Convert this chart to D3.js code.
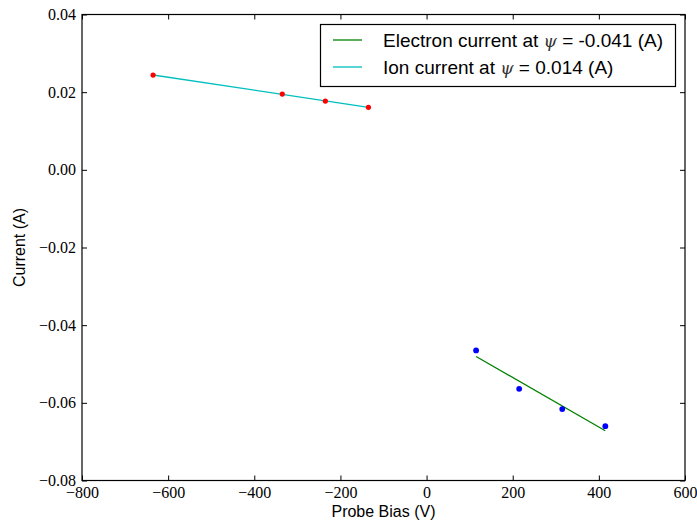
<!DOCTYPE html>
<html>
<head>
<meta charset="utf-8">
<script src="https://cdn.jsdelivr.net/npm/d3@7"></script>
<style>
  html, body { margin: 0; padding: 0; background: #fff; }
  svg { display: block; }
  .tick text { font-family: 'Liberation Serif', 'Times New Roman', serif; }
</style>
</head>
<body>
<svg id="chart" width="697" height="527"></svg>
<script>
// Probe bias sweep (V) and measured current (A)
const ionBias = [-635, -335, -235, -135];
const ionCurrent = [0.0244, 0.0195, 0.0177, 0.0161];
const electronBias = [115, 215, 315, 415];
const electronCurrent = [-0.0465, -0.0564, -0.0616, -0.0660];

const xTicks = [-800, -600, -400, -200, 0, 200, 400, 600];
const yTicks = [-0.08, -0.06, -0.04, -0.02, 0.00, 0.02, 0.04];

const legendLabels = [
  { pre: "Electron current at ", val: " = -0.041 (A)", color: "#008000" },
  { pre: "Ion current at ", val: " = 0.014 (A)", color: "#00bfbf" }
];

const W = 697, H = 527;
const m = { left: 82, top: 14.5, right: 12, bottom: 46.5 };
const pw = W - m.left - m.right, ph = H - m.top - m.bottom;

const svg = d3.select("#chart");
const g = svg.append("g").attr("transform", `translate(${m.left},${m.top})`);

const x = d3.scaleLinear().domain([-800, 600]).range([0, pw]);
const y = d3.scaleLinear().domain([-0.08, 0.04]).range([ph, 0]);

// least-squares straight line through a set of points
function fit(xs, ys) {
  const n = xs.length;
  const mx = d3.mean(xs), my = d3.mean(ys);
  let sxy = 0, sxx = 0;
  for (let i = 0; i < n; i++) {
    sxy += (xs[i] - mx) * (ys[i] - my);
    sxx += (xs[i] - mx) * (xs[i] - mx);
  }
  const k = sxy / sxx, b = my - k * mx;
  const x0 = d3.min(xs), x1 = d3.max(xs);
  return [[x0, k * x0 + b], [x1, k * x1 + b]];
}

const line = d3.line().x(d => x(d[0])).y(d => y(d[1]));

// fitted lines
g.append("path").datum(fit(electronBias, electronCurrent))
  .attr("d", line).attr("fill", "none")
  .attr("stroke", "#008000").attr("stroke-width", 1.3);
g.append("path").datum(fit(ionBias, ionCurrent))
  .attr("d", line).attr("fill", "none")
  .attr("stroke", "#00bfbf").attr("stroke-width", 1.3);

// measured points
g.selectAll(".ion").data(d3.zip(ionBias, ionCurrent)).join("circle")
  .attr("cx", d => x(d[0])).attr("cy", d => y(d[1])).attr("r", 2.6)
  .attr("fill", "#ff0000");
g.selectAll(".el").data(d3.zip(electronBias, electronCurrent)).join("circle")
  .attr("cx", d => x(d[0])).attr("cy", d => y(d[1])).attr("r", 2.9)
  .attr("fill", "#0000ff");

// axes with inward ticks on all four sides
const fmtY = d3.format(".2f");

const bottomAx = g.append("g").attr("transform", `translate(0,${ph})`)
  .call(d3.axisBottom(x).tickValues(xTicks).tickSizeInner(-5).tickSizeOuter(0).tickFormat(d3.format("d")));
const topAx = g.append("g")
  .call(d3.axisTop(x).tickValues(xTicks).tickSizeInner(-5).tickSizeOuter(0).tickFormat(""));
const leftAx = g.append("g")
  .call(d3.axisLeft(y).tickValues(yTicks).tickSizeInner(-5).tickSizeOuter(0).tickPadding(6).tickFormat(fmtY));
const rightAx = g.append("g").attr("transform", `translate(${pw},0)`)
  .call(d3.axisRight(y).tickValues(yTicks).tickSizeInner(-5).tickSizeOuter(0).tickFormat(""));

[bottomAx, topAx, leftAx, rightAx].forEach(a => {
  a.attr("font-family", null);
  a.select(".domain").remove();
  a.selectAll("line").attr("stroke", "#000").attr("stroke-width", 1);
  a.selectAll("text")
    .style("font-family", "'Liberation Serif', 'Times New Roman', serif")
    .attr("font-size", 16).attr("fill", "#000");
});
bottomAx.selectAll("text").attr("y", 17.5).attr("dy", 0);

// frame
g.append("rect").attr("x", 0).attr("y", 0).attr("width", pw).attr("height", ph)
  .attr("fill", "none").attr("stroke", "#000").attr("stroke-width", 1.2);

// axis titles
const sans = "'Liberation Sans', Arial, sans-serif";
svg.append("text").attr("x", m.left + pw / 2).attr("y", 517)
  .attr("text-anchor", "middle").attr("font-family", sans).attr("font-size", 16)
  .text("Probe Bias (V)");
svg.append("text").attr("transform", `translate(25,${m.top + ph / 2}) rotate(-90)`)
  .attr("text-anchor", "middle").attr("font-family", sans).attr("font-size", 16)
  .text("Current (A)");

// legend
const lg = svg.append("g");
lg.append("rect").attr("x", 320.5).attr("y", 24.5).attr("width", 355).attr("height", 62)
  .attr("fill", "#fff").attr("stroke", "#000").attr("stroke-width", 1.2);
legendLabels.forEach((d, i) => {
  const cy = 40 + i * 27;
  lg.append("line").attr("x1", 333).attr("x2", 362).attr("y1", cy).attr("y2", cy)
    .attr("stroke", d.color).attr("stroke-width", 1.3);
  const t = lg.append("text").attr("x", 383).attr("y", cy + 6.5)
    .attr("font-family", sans).attr("font-size", 19).attr("fill", "#000");
  t.append("tspan").text(d.pre);
  t.append("tspan").attr("font-family", "'DejaVu Serif', serif").attr("font-style", "italic")
    .attr("font-size", 17).attr("fill", "#333").text("\u03c8");
  t.append("tspan").text(d.val);
});
</script>
</body>
</html>
